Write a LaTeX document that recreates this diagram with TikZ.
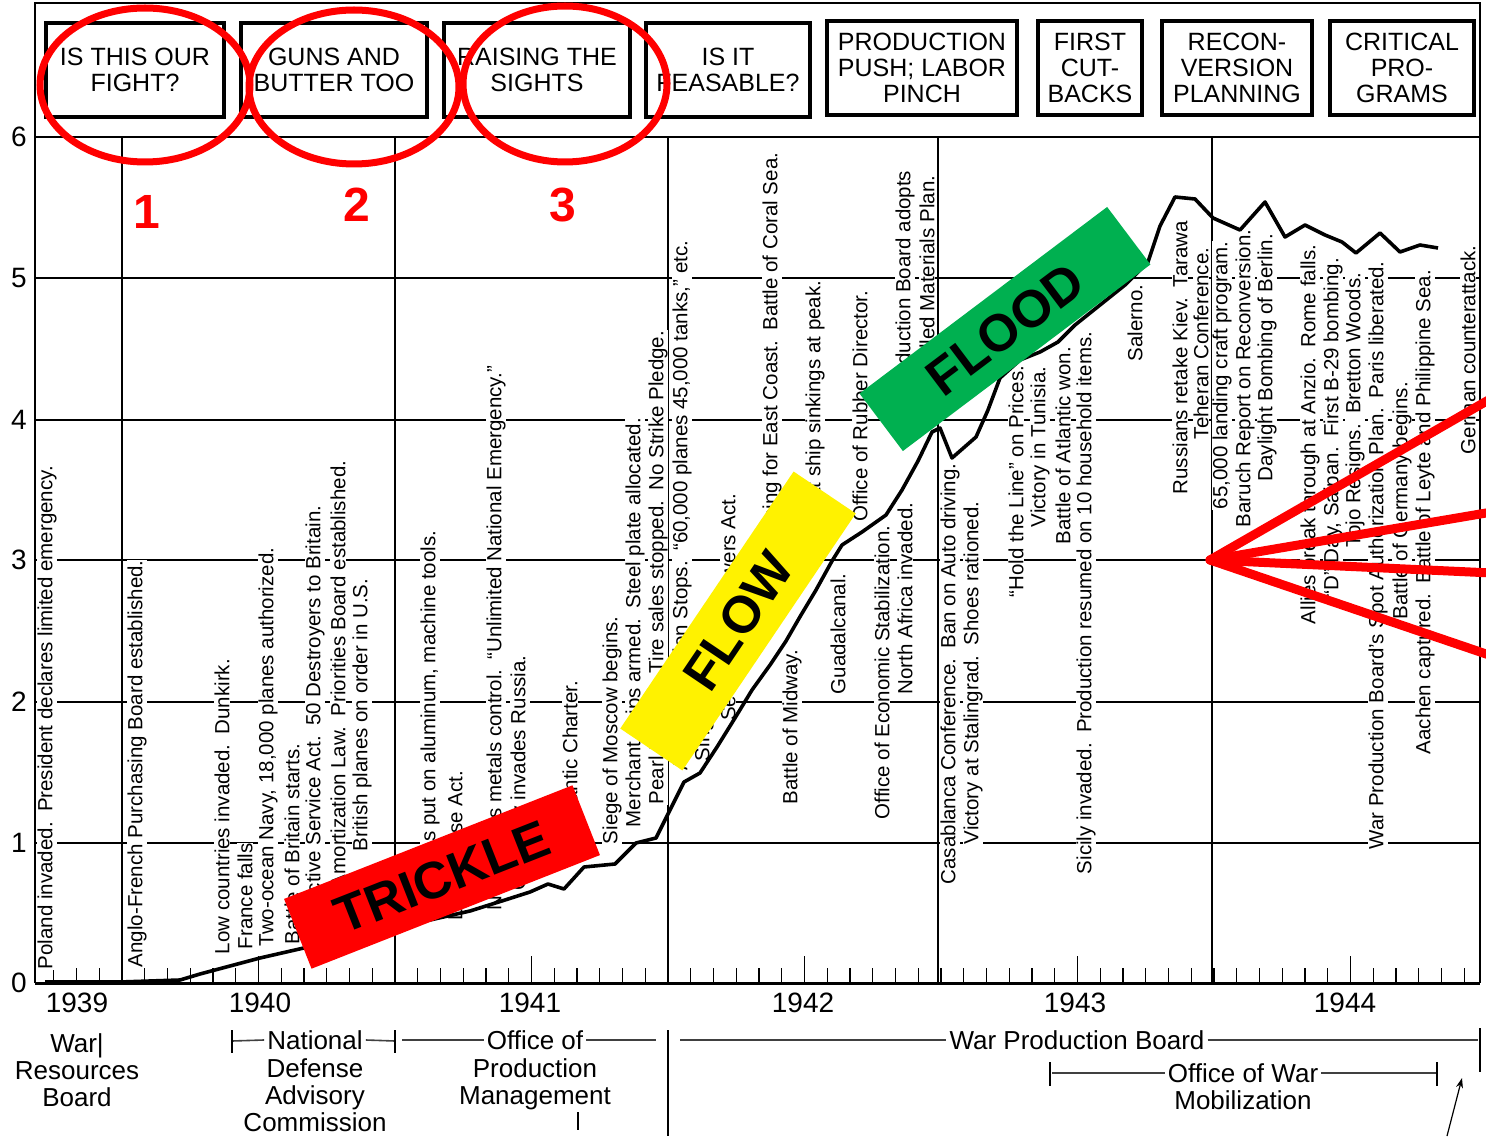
\documentclass[tikz,border=0pt]{standalone}
\usepackage{fontspec}
\setmainfont{Liberation Sans}
\usetikzlibrary{arrows.meta}
\definecolor{floodgreen}{RGB}{0,176,80}
\newcommand{\evtfont}{\fontsize{20.5}{22}\selectfont}
\newcommand{\hdrfont}{\fontsize{25}{26}\selectfont}
\newcommand{\agfont}{\fontsize{26}{27}\selectfont}
\newcommand{\yrfont}{\fontsize{28}{28}\selectfont}
\newcommand{\gap}{\hspace{0.5em}}
\tikzset{
  evt/.style={rotate=90,font=\evtfont,fill=white,inner sep=0.6pt},
  evtup/.style={evt,anchor=west},  % placed by its lower end
  evtdn/.style={evt,anchor=east},  % placed by its upper end
  hdrbox/.style={draw,line width=3.2pt,align=center,font=\hdrfont,inner sep=0pt},
  gridline/.style={line width=1.5pt},
  agency/.style={font=\agfont,align=center,inner sep=3pt},
  agline/.style={line width=1.6pt,black!75},
  banner/.style={minimum width=310pt,minimum height=75pt,inner sep=0pt,
    font=\fontsize{52}{52}\bfseries\selectfont},
  ring/.style={draw=red,line width=7pt},
  fanline/.style={draw=red,line width=9pt,line cap=round},
}
\begin{document}
\begin{tikzpicture}[x=1pt,y=-1pt]
\useasboundingbox (0,0) rectangle (1486,1139);
\fill[white] (0,0) rectangle (1486,1139);

% frame and grid
\draw[line width=1.8pt] (35,983) -- (35,3) -- (1480,3) -- (1480,983);
\draw[line width=2.4pt] (35,137) -- (1480,137);
\foreach \yy in {278,420,560,702,843}
  \draw[gridline] (35,\yy) -- (1480,\yy);
\foreach \xx in {122,395,668,938,1212}
  \draw[gridline] (\xx,137) -- (\xx,983);
\draw[line width=3pt] (35,983) -- (1480,983);
\foreach \m in {-3,...,59}
  \draw[line width=1.3pt] ({122+22.75*\m},983) -- ++(0,-15);
\foreach \m in {6,18,30,42,54}
  \draw[line width=1.3pt] ({122+22.75*\m},983) -- ++(0,-27);

% scale
\foreach \v/\yy in {0/983,1/843,2/702,3/560,4/420,5/278,6/137}
  \node[font=\yrfont,inner sep=0pt] (ylab\v) at (19,\yy) {\v};
\foreach \yr/\xx in {1939/77,1940/260,1941/530,1942/803,1943/1075,1944/1345}
  \node[font=\yrfont] (yr\yr) at (\xx,1003) {\yr};

% header
\node[hdrbox,minimum width=178pt,minimum height=94pt] (hb1) at (135,70) {IS THIS OUR\\FIGHT?};
\node[hdrbox,minimum width=186pt,minimum height=94pt] (hb2) at (334,70) {GUNS AND\\BUTTER TOO};
\node[hdrbox,minimum width=186pt,minimum height=94pt] (hb3) at (537,70) {RAISING THE\\SIGHTS};
\node[hdrbox,minimum width=164pt,minimum height=94pt] (hb4) at (728,70) {IS IT\\FEASABLE?};
\node[hdrbox,minimum width=190pt,minimum height=94pt] (hb5) at (922,68) {PRODUCTION\\PUSH; LABOR\\PINCH};
\node[hdrbox,minimum width=104pt,minimum height=94pt] (hb6) at (1090,68) {FIRST\\CUT-\\BACKS};
\node[hdrbox,minimum width=150pt,minimum height=94pt] (hb7) at (1237,68) {RECON-\\VERSION\\PLANNING};
\node[hdrbox,minimum width=144pt,minimum height=94pt] (hb8) at (1402,68) {CRITICAL\\PRO-\\GRAMS};

% events
\node[evtup] (e1) at (47,970) {Poland invaded.\gap President declares limited emergency.};
\node[evtup] (e2) at (137,968) {Anglo-French Purchasing Board established.};
\node[evtup] (e3) at (222,955) {Low countries invaded.\gap Dunkirk.};
\node[evtup] (e4) at (245,950) {France falls};
\node[evtup] (e5) at (268,947) {Two-ocean Navy, 18,000 planes authorized.};
\node[evtup] (e6) at (292,945) {Battle of Britain starts.};
\node[evtdn] (e7) at (315,505) {Selective Service Act.\gap 50 Destroyers to Britain.};
\node[evtdn] (e8) at (338,460) {Amortization Law.\gap Priorities Board established.};
\node[evtdn] (e9) at (362,578) {British planes on order in U.S.};
\node[evtdn] (e10) at (430,530) {Priorities put on aluminum, machine tools.};
\node[evtdn] (e11) at (455,770) {Lend-Lease Act.};
\node[evtdn] (e12) at (496,365) {Nonferrous metals control.\gap “Unlimited National Emergency.”};
\node[evtdn] (e13) at (520,655) {Germany invades Russia.};
\node[evtdn] (e14) at (570,680) {Atlantic Charter.};
\node[evtup] (e15) at (612,845) {Siege of Moscow begins.};
\node[evtup] (e16) at (635,828) {Merchant ships armed.\gap Steel plate allocated.};
\node[evtup] (e17) at (658,805) {Pearl Harbor.\gap Tire sales stopped.\gap No Strike Pledge.};
\node[evtdn] (e18) at (682,240) {Auto Production Stops.\gap “60,000 planes 45,000 tanks,” etc.};
\node[evtup] (e19) at (704,762) {Singapore falls.};
\node[evtdn] (e20) at (728,493) {Second War Powers Act.};
\node[evtdn] (e21) at (772,152) {Gas rationing for East Coast.\gap Battle of Coral Sea.};
\node[evtup] (e22) at (792,805) {Battle of Midway.};
\node[evtdn] (e23) at (815,280) {U-boat ship sinkings at peak.};
\node[evtup] (e24) at (838,695) {Guadalcanal.};
\node[evtdn] (e25) at (860,290) {Office of Rubber Director.};
\node[evtup] (e26) at (882,820) {Office of Economic Stabilization.};
\node[evtup] (e27) at (905,695) {North Africa invaded.};
\node[evtdn] (e28) at (905,170) {War Production Board adopts};
\node[evtdn] (e29) at (927,175) {Controlled Materials Plan.};
\node[evtup] (e30) at (950,885) {Casablanca Conference.\gap Ban on Auto driving.};
\node[evtup] (e31) at (973,845) {Victory at Stalingrad.\gap Shoes rationed.};
\node[evtup] (e32) at (1016,598) {“Hold the Line” on Prices.};
\node[evtup] (e33) at (1040,528) {Victory in Tunisia.};
\node[evtup] (e34) at (1063,545) {Battle of Atlantic won.};
\node[evtup] (e35) at (1086,875) {Sicily invaded.\gap Production resumed on 10 household items.};
\node[evtup] (e36) at (1135,362) {Salerno.};
\node[evtup] (e37) at (1180,495) {Russians retake Kiev.\gap Tarawa};
\node[evtup] (e38) at (1201,440) {Teheran Conference.};
\node[evtup] (e39) at (1222,510) {65,000 landing craft program.};
\node[evtup] (e40) at (1245,528) {Baruch Report on Reconversion.};
\node[evtup] (e41) at (1267,482) {Daylight Bombing of Berlin.};
\node[evtup] (e42) at (1310,625) {Allies break through at Anzio.\gap Rome falls.};
\node[evtup] (e43) at (1333,598) {“D” Day, Saipan.\gap First B-29 bombing.};
\node[evtup] (e44) at (1355,548) {Tojo Resigns.\gap Bretton Woods.};
\node[evtup] (e45) at (1378,850) {War Production Board's Spot Authorization Plan.\gap Paris liberated.};
\node[evtup] (e46) at (1402,620) {Battle of Germany begins.};
\node[evtup] (e47) at (1425,755) {Aachen captured.\gap Battle of Leyte and Philippine Sea.};
\node[evtup] (e48) at (1468,455) {German counterattack.};

% production curve
\draw[line width=3.6pt,line join=round] plot coordinates {(45,982) (120,982) (180,980) (200,974)
  (230,966) (260,958) (295,950) (330,942) (365,934) (395,927) (430,920) (470,911) (505,900)
  (530,892) (548,884) (564,889) (584,867) (615,864) (636,843) (656,838) (670,810) (684,782)
  (700,773) (717,747) (735,718) (752,690) (770,665) (786,641) (801,615) (816,590) (832,561)
  (842,545) (862,532) (886,515) (902,490) (918,461) (932,432) (940,428) (952,458) (976,437)
  (988,410) (1000,378) (1020,360) (1040,352) (1058,342) (1075,325) (1100,305) (1125,285)
  (1148,262) (1160,226) (1175,197) (1195,199) (1213,218) (1240,230) (1265,202) (1285,237)
  (1305,225) (1325,235) (1342,242) (1356,253) (1380,233) (1400,252) (1420,245) (1438,248)};

% agencies
\node[agency] (wrb) at (77,1070) {War|\\Resources\\Board};
\node[agency] (ndac) at (315,1040) {National};
\node[agency,below=3pt] (ndac2) at (ndac.south) {Defense\\Advisory\\Commission};
\node[agency] (opm) at (535,1040) {Office of};
\node[agency,below=3pt] (opm2) at (opm.south) {Production\\Management};
\node[agency] (wpb) at (1077,1040) {War Production Board};
\node[agency] (owm) at (1243,1073) {Office of War};
\node[agency,below=2pt] (owm2) at (owm.south) {Mobilization};
\draw[agline] (232,1041) -- (ndac.west);
\draw[agline] (ndac.east) -- (395,1041);
\draw[line width=1.6pt] (232,1030) -- (232,1053);
\draw[line width=1.6pt] (395,1030) -- (395,1053);
\draw[agline] (402,1040) -- (opm.west);
\draw[agline] (opm.east) -- (656,1040);
\draw[line width=1.3pt] (578,1112) -- (578,1130);
\draw[line width=1.6pt] (668,1030) -- (668,1136);
\draw[agline] (680,1040) -- (wpb.west);
\draw[agline] (wpb.east) -- (1478,1040);
\draw[line width=1.6pt] (1480,1028) -- (1480,1072);
\draw[agline] (1052,1073) -- (owm.west);
\draw[agline] (owm.east) -- (1437,1073);
\draw[line width=1.6pt] (1050,1062) -- (1050,1086);
\draw[line width=1.6pt] (1437,1062) -- (1437,1086);
\coordinate (arrtail) at (1447,1136);
\coordinate (arrhead) at (1462,1078);
\draw[line width=1.2pt,-{Stealth[length=10pt,width=7pt]}] (arrtail) -- (arrhead);

% banners
\node[banner,fill=red,rotate=21.5] (trickle) at (442,877) {TRICKLE};
\node[banner,fill=yellow,rotate=56] (flow) at (738,621) {FLOW};
\node[banner,fill=floodgreen,rotate=37,minimum height=72pt] (flood) at (1005,329) {FLOOD};

% marks
\draw[ring] (145,85) ellipse [x radius=105, y radius=77];
\draw[ring] (354,87) ellipse [x radius=105, y radius=77];
\draw[ring] (565,84) ellipse [x radius=102, y radius=78];
\foreach \n/\xx/\yy in {1/147/212,2/357/205,3/563/205}
  \node[text=red,font=\fontsize{48}{48}\bfseries\selectfont] (num\n) at (\xx,\yy) {\n};
\coordinate (fan) at (1210,560);
\foreach \k/\yy in {a/398,b/512,c/573,d/656}
  \coordinate (fan\k) at (1492,\yy);
\foreach \k in {a,b,c,d}
  \draw[fanline] (fan) -- (fan\k);
\end{tikzpicture}
\end{document}
